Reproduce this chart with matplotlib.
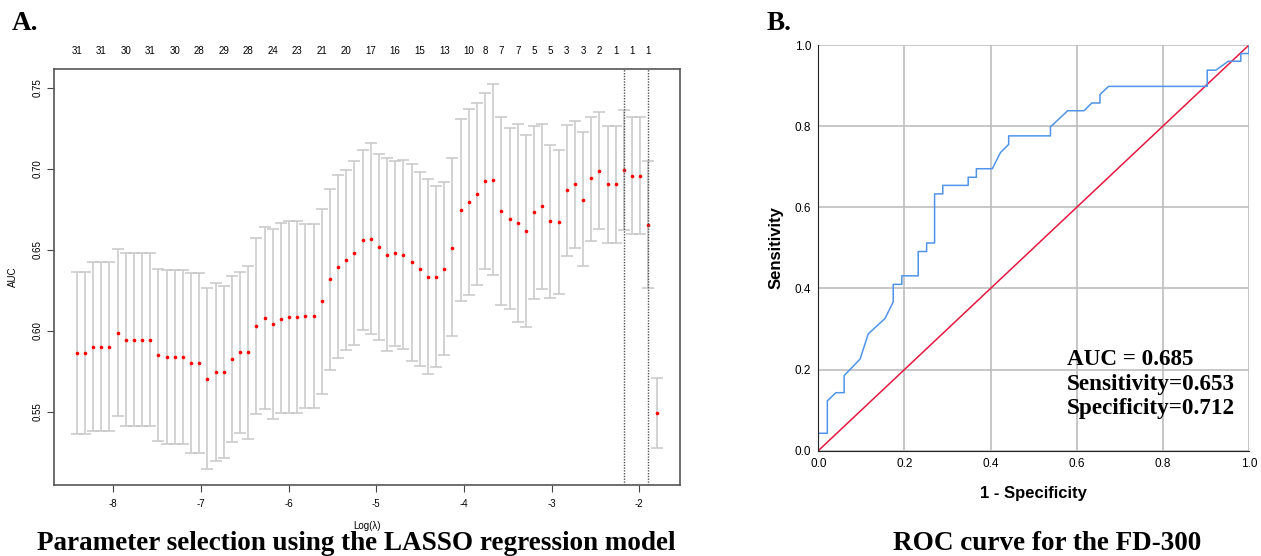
import matplotlib.pyplot as plt
import numpy as np
import matplotlib

matplotlib.rcParams['font.family'] = ['Liberation Sans', 'DejaVu Sans']
matplotlib.rcParams['axes.unicode_minus'] = False

# ---- panel A: cv.glmnet AUC vs log(lambda) ----
log_lambda = [-8.417, -8.324, -8.231, -8.138, -8.044, -7.951, -7.858, -7.765, -7.672, -7.579,
              -7.485, -7.392, -7.299, -7.206, -7.113, -7.020, -6.926, -6.833, -6.740, -6.647,
              -6.554, -6.461, -6.367, -6.274, -6.181, -6.088, -5.995, -5.902, -5.808, -5.715,
              -5.622, -5.529, -5.436, -5.343, -5.250, -5.156, -5.063, -4.970, -4.877, -4.784,
              -4.691, -4.597, -4.504, -4.411, -4.318, -4.225, -4.132, -4.038, -3.945, -3.852,
              -3.759, -3.666, -3.573, -3.479, -3.386, -3.293, -3.200, -3.107, -3.014, -2.920,
              -2.827, -2.734, -2.641, -2.548, -2.455, -2.361, -2.268, -2.175, -2.082, -1.989,
              -1.896, -1.802]

auc_mean = [0.5865, 0.5865, 0.5902, 0.5902, 0.5902, 0.5989, 0.5947, 0.5947, 0.5947, 0.5947,
            0.5853, 0.5842, 0.5842, 0.5842, 0.5801, 0.5801, 0.5706, 0.5747, 0.5747, 0.5828,
            0.5869, 0.5869, 0.6034, 0.6079, 0.6042, 0.6076, 0.6084, 0.6084, 0.6090, 0.6090,
            0.6185, 0.6321, 0.6398, 0.6438, 0.6480, 0.6562, 0.6571, 0.6521, 0.6472, 0.6480,
            0.6472, 0.6426, 0.6385, 0.6336, 0.6336, 0.6385, 0.6515, 0.6750, 0.6796, 0.6843,
            0.6926, 0.6934, 0.6742, 0.6692, 0.6667, 0.6618, 0.6736, 0.6771, 0.6680, 0.6672,
            0.6868, 0.6905, 0.6810, 0.6944, 0.6988, 0.6909, 0.6909, 0.6992, 0.6957, 0.6957,
            0.6657, 0.5497]

auc_upper = [0.6364, 0.6364, 0.6426, 0.6426, 0.6426, 0.6505, 0.6482, 0.6482, 0.6482, 0.6482,
             0.6385, 0.6376, 0.6376, 0.6376, 0.6356, 0.6356, 0.6267, 0.6294, 0.6277, 0.6337,
             0.6367, 0.6404, 0.6577, 0.6643, 0.6630, 0.6664, 0.6676, 0.6676, 0.6659, 0.6659,
             0.6752, 0.6876, 0.6965, 0.6996, 0.7048, 0.7120, 0.7161, 0.7093, 0.7070, 0.7048,
             0.7056, 0.7033, 0.6983, 0.6938, 0.6893, 0.6920, 0.7070, 0.7310, 0.7373, 0.7407,
             0.7471, 0.7526, 0.7322, 0.7250, 0.7277, 0.7209, 0.7268, 0.7277, 0.7149, 0.7120,
             0.7274, 0.7299, 0.7227, 0.7322, 0.7349, 0.7268, 0.7268, 0.7363, 0.7318, 0.7318,
             0.7048, 0.5710]

auc_lower = [0.5365, 0.5365, 0.5384, 0.5384, 0.5384, 0.5475, 0.5415, 0.5415, 0.5415, 0.5415,
             0.5320, 0.5305, 0.5305, 0.5305, 0.5250, 0.5250, 0.5149, 0.5200, 0.5215, 0.5318,
             0.5372, 0.5334, 0.5487, 0.5516, 0.5456, 0.5494, 0.5495, 0.5495, 0.5524, 0.5524,
             0.5613, 0.5762, 0.5832, 0.5884, 0.5915, 0.6007, 0.5983, 0.5946, 0.5877, 0.5910,
             0.5892, 0.5817, 0.5785, 0.5737, 0.5780, 0.5850, 0.5968, 0.6187, 0.6220, 0.6284,
             0.6385, 0.6344, 0.6162, 0.6139, 0.6054, 0.6028, 0.6199, 0.6261, 0.6206, 0.6226,
             0.6461, 0.6513, 0.6399, 0.6556, 0.6628, 0.6544, 0.6544, 0.6622, 0.6598, 0.6598,
             0.6267, 0.5281]

# number of non-zero coefficients shown on top axis
nz_idx = [0, 3, 6, 9, 12, 15, 18, 21, 24, 27, 30, 33, 36, 39, 42, 45, 48, 50, 52, 54,
          56, 58, 60, 62, 64, 66, 68, 70]
nz_vals = [31, 31, 30, 31, 30, 28, 29, 28, 24, 23, 21, 20, 17, 16, 15, 13, 10, 8, 7, 7,
           5, 5, 3, 3, 2, 1, 1, 1]
vline_idx = [67, 70]  # lambda.min, lambda.1se

# ---- panel B: ROC curve ----
fpr = [0, 0, 0.021, 0.021, 0.041, 0.060, 0.060, 0.097, 0.116, 0.155, 0.174, 0.174, 0.194,
       0.194, 0.232, 0.232, 0.2515, 0.2515, 0.270, 0.270, 0.289, 0.289, 0.348, 0.348, 0.367,
       0.367, 0.404, 0.423, 0.442, 0.442, 0.539, 0.539, 0.579, 0.617, 0.635, 0.654, 0.654,
       0.674, 0.903, 0.903, 0.923, 0.952, 0.981, 0.981, 1.0, 1.0]
tpr = [0, 0.043, 0.043, 0.123, 0.143, 0.143, 0.185, 0.226, 0.288, 0.326, 0.367, 0.41, 0.41,
       0.431, 0.431, 0.491, 0.491, 0.512, 0.512, 0.633, 0.633, 0.654, 0.654, 0.674, 0.674,
       0.695, 0.695, 0.735, 0.755, 0.776, 0.776, 0.798, 0.838, 0.838, 0.857, 0.857, 0.878,
       0.898, 0.898, 0.938, 0.938, 0.960, 0.960, 0.979, 0.979, 1.0]
auc_text = ['AUC = 0.685', 'Sensitivity=0.653', 'Specificity=0.712']

serif = ['Liberation Serif', 'DejaVu Serif']

fig = plt.figure(figsize=(12.61, 5.56), dpi=100)

# panel A
axA = fig.add_axes([54/1261, 71/556, 626/1261, 416/556])
x = np.array(log_lambda)
m = np.array(auc_mean)
lo = m - np.array(auc_lower)
hi = np.array(auc_upper) - m
axA.errorbar(x, m, yerr=[lo, hi], fmt='none', ecolor='#c8c8c8', elinewidth=1.1,
             capsize=4.3, capthick=1.1)
axA.plot(x, m, 'o', color='red', markersize=2.6, markeredgewidth=0)
for k in vline_idx:
    axA.axvline(log_lambda[k], color='#555555', linestyle=(0, (1, 1)), linewidth=1.0)
axA.set_xlim(-8.676, -1.536)
axA.set_ylim(0.505, 0.7617)
axA.set_xticks([-8, -7, -6, -5, -4, -3, -2])
axA.set_yticks([0.55, 0.60, 0.65, 0.70, 0.75])
axA.set_yticklabels(['0.55', '0.60', '0.65', '0.70', '0.75'], rotation=90, va='center')
axA.tick_params(labelsize=7, length=5, width=0.8, color='#444444')
axA.tick_params(axis='x', pad=5)
axA.tick_params(axis='y', pad=3)
for s in axA.spines.values():
    s.set_color('#555555')
    s.set_linewidth(1.2)
for k, v in zip(nz_idx, nz_vals):
    axA.text(log_lambda[k], 1.044, str(v), transform=axA.get_xaxis_transform(),
             ha='center', va='center', fontsize=7)
axA.text(0.5, -0.098, 'Log(λ)', transform=axA.transAxes, ha='center', va='center', fontsize=7)
axA.text(-0.066, 0.5, 'AUC', transform=axA.transAxes, ha='center', va='center',
         rotation=90, fontsize=7)

# panel B
axB = fig.add_axes([818.3/1261, 105.3/556, 430.7/1261, 405.7/556])
axB.grid(True, color='#bdbdbd', linewidth=1.2)
axB.set_axisbelow(True)
axB.plot([0, 1], [0, 1], color='#e5173f', linewidth=1.1)
axB.plot(fpr, tpr, color='#4f94ea', linewidth=1.1)
axB.set_xlim(0, 1)
axB.set_ylim(0, 1)
ticks = [0.0, 0.2, 0.4, 0.6, 0.8, 1.0]
axB.set_xticks(ticks)
axB.set_yticks(ticks)
axB.set_xticklabels([f'{t:.1f}' for t in ticks])
axB.set_yticklabels([f'{t:.1f}' for t in ticks])
axB.tick_params(labelsize=8.5, length=0, pad=5)
axB.spines['top'].set_visible(False)
axB.spines['right'].set_visible(False)
axB.spines['left'].set_color('#222222')
axB.spines['bottom'].set_color('#222222')
axB.set_xlabel('1 - Specificity', fontsize=12, fontweight='bold', labelpad=12)
axB.set_ylabel('Sensitivity', fontsize=12, fontweight='bold', labelpad=8)
for t, yv in zip(auc_text, [0.226, 0.164, 0.1045]):
    axB.text(0.577, yv, t, fontsize=16.7, fontweight='bold', family=serif,
             ha='left', va='center')

# panel letters and captions
fig.text(12/1261, 1 - 30/556, 'A.', fontsize=19.5, fontweight='bold', family=serif,
         va='baseline', ha='left')
fig.text(767/1261, 1 - 30/556, 'B.', fontsize=19.5, fontweight='bold', family=serif,
         va='baseline', ha='left')
fig.text(356/1261, 6/556, 'Parameter selection using the LASSO regression model',
         fontsize=19.5, fontweight='bold', family=serif, ha='center', va='baseline')
fig.text(1047/1261, 6/556, 'ROC curve for the FD-300',
         fontsize=19.5, fontweight='bold', family=serif, ha='center', va='baseline')

plt.savefig('out.png', dpi=100)
